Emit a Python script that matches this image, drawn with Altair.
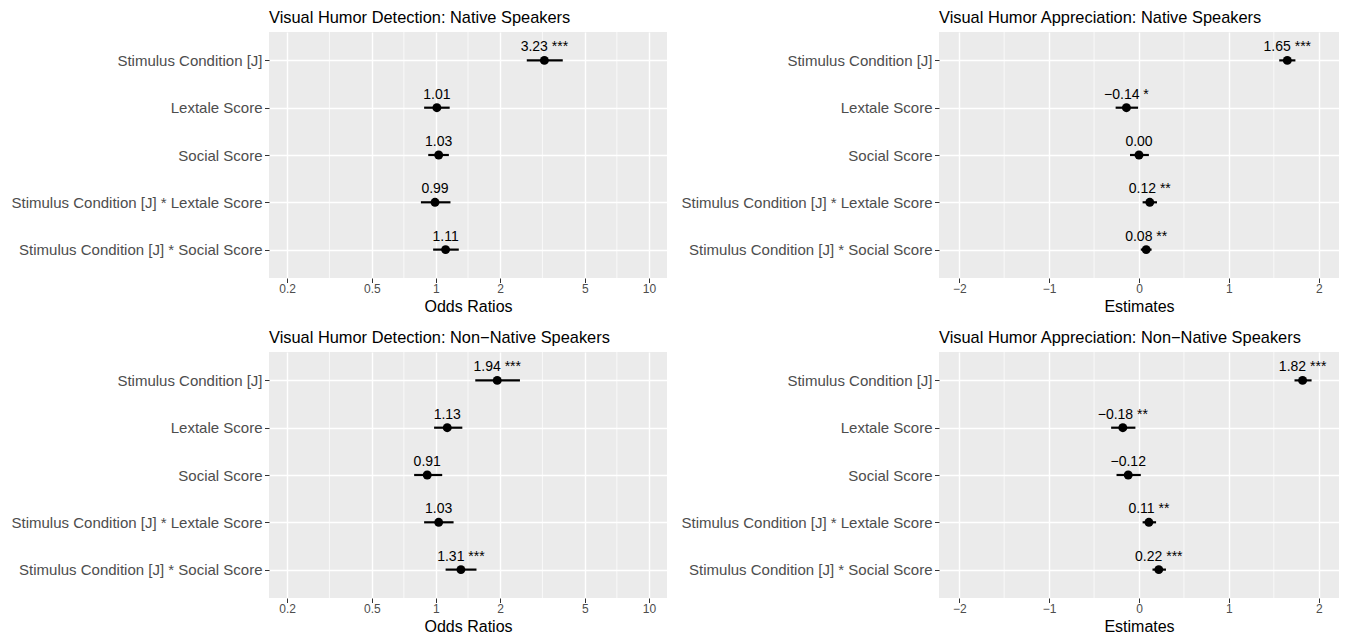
import math
import altair as alt
import pandas as pd

FONT = "Liberation Sans"

terms = [
    "Stimulus Condition [J]",
    "Lextale Score",
    "Social Score\u00a0",
    "Stimulus Condition [J] * Lextale Score",
    "Stimulus Condition [J] * Social Score\u00a0",
]

# Visual Humor Detection: Native Speakers (odds ratios)
det_nat_est = [3.23, 1.01, 1.03, 0.99, 1.11]
det_nat_lo = [2.67, 0.88, 0.92, 0.85, 0.97]
det_nat_hi = [3.94, 1.16, 1.15, 1.17, 1.28]
det_nat_sig = ["***", "", "", "", ""]

# Visual Humor Detection: Non-Native Speakers (odds ratios)
det_non_est = [1.94, 1.13, 0.91, 1.03, 1.31]
det_non_lo = [1.53, 0.98, 0.79, 0.88, 1.11]
det_non_hi = [2.48, 1.33, 1.07, 1.21, 1.55]
det_non_sig = ["***", "", "", "", "***"]

# Visual Humor Appreciation: Native Speakers (estimates)
app_nat_est = [1.65, -0.14, 0.00, 0.12, 0.08]
app_nat_lo = [1.56, -0.26, -0.10, 0.04, 0.02]
app_nat_hi = [1.74, -0.01, 0.11, 0.20, 0.14]
app_nat_sig = ["***", "*", "", "**", "**"]

# Visual Humor Appreciation: Non-Native Speakers (estimates)
app_non_est = [1.82, -0.18, -0.12, 0.11, 0.22]
app_non_lo = [1.73, -0.31, -0.25, 0.04, 0.15]
app_non_hi = [1.92, -0.04, 0.02, 0.19, 0.30]
app_non_sig = ["***", "**", "", "**", "***"]

log_ticks = [0.2, 0.5, 1, 2, 5, 10]
log_minor = [0.316, 0.707, 1.414, 3.162, 7.071]
lin_ticks = [-2, -1, 0, 1, 2]
lin_minor = [-1.5, -0.5, 0.5, 1.5]

H = 246


def fmt(v):
    s = f"{v:.2f}"
    if s.startswith("-"):
        s = "\u2212" + s[1:]
    return s


def panel(title, est, lo, hi, sig, log, xtitle, width):
    df = pd.DataFrame({
        "term": terms, "est": est, "lo": lo, "hi": hi,
        "label": [fmt(e) + (" " + s if s else "") for e, s in zip(est, sig)],
    })
    if log:
        lo_d = 10 ** (math.log10(0.2) - 0.085)
        hi_d = 10 ** (1 + 0.085)
        xscale = alt.Scale(type="log", domain=[lo_d, hi_d], nice=False)
        ticks, minor, lfmt = log_ticks, log_minor, "~g"
    else:
        xscale = alt.Scale(domain=[-2.225, 2.225], nice=False, zero=False)
        ticks, minor, lfmt = lin_ticks, lin_minor, "d"

    xaxis = alt.Axis(
        title=xtitle, values=ticks, format=lfmt, grid=True,
        gridColor="white", gridWidth=1.4, domain=False,
        ticks=True, tickColor="#333333", tickSize=4.5, tickWidth=1,
        labelColor="#4D4D4D", labelFontSize=12, labelFont=FONT,
        labelPadding=1, titleFont=FONT, titleFontSize=16,
        titleFontWeight="normal", titleColor="black", titlePadding=4,
        labelFlush=False, labelOverlap=False,
    )
    yscale = alt.Scale(type="point", padding=0.6, domain=terms)
    yaxis = alt.Axis(
        title=None, grid=True, gridColor="white", gridWidth=1.4,
        domain=False, ticks=True, tickColor="#333333", tickSize=4.5,
        tickWidth=1, labelColor="#4D4D4D", labelFontSize=15,
        labelFont=FONT, labelPadding=2.5, labelLimit=400,
    )

    minor_layer = alt.Chart(pd.DataFrame({"m": minor})).mark_rule(
        color="white", strokeWidth=0.7
    ).encode(x=alt.X("m:Q", scale=xscale, axis=xaxis))

    base = alt.Chart(df)
    bars = base.mark_rule(color="black", strokeWidth=2.2).encode(
        x=alt.X("lo:Q", scale=xscale, axis=xaxis),
        x2="hi:Q",
        y=alt.Y("term:N", scale=yscale, axis=yaxis, sort=terms),
    )
    pts = base.mark_circle(color="black", size=80, opacity=1).encode(
        x=alt.X("est:Q", scale=xscale, axis=xaxis),
        y=alt.Y("term:N", scale=yscale, axis=yaxis, sort=terms),
    )
    txt = base.mark_text(
        font=FONT, fontSize=14, color="black", baseline="alphabetic",
        align="center", dy=-9,
    ).encode(
        x=alt.X("est:Q", scale=xscale, axis=xaxis),
        y=alt.Y("term:N", scale=yscale, axis=yaxis, sort=terms),
        text="label:N",
    )
    return alt.layer(minor_layer, bars, pts, txt).properties(
        width=width, height=H,
        title=alt.TitleParams(
            title, anchor="start", frame="group", font=FONT,
            fontSize=16.4, fontWeight="normal", color="black", offset=5.5,
        ),
    )


p1 = panel("Visual Humor Detection: Native Speakers", det_nat_est, det_nat_lo,
           det_nat_hi, det_nat_sig, True, "Odds Ratios", 398)
p2 = panel("Visual Humor Appreciation: Native Speakers", app_nat_est, app_nat_lo,
           app_nat_hi, app_nat_sig, False, "Estimates", 400)
p3 = panel("Visual Humor Detection: Non\u2212Native Speakers", det_non_est,
           det_non_lo, det_non_hi, det_non_sig, True, "Odds Ratios", 398)
p4 = panel("Visual Humor Appreciation: Non\u2212Native Speakers", app_non_est,
           app_non_lo, app_non_hi, app_non_sig, False, "Estimates", 400)

top = alt.hconcat(p1, p2, spacing=14)
bottom = alt.hconcat(p3, p4, spacing=14)

chart = alt.vconcat(top, bottom, spacing=14).properties(
    padding={"left": 3, "top": 1, "right": 0, "bottom": 0},
    background="white",
).configure_view(fill="#EBEBEB", stroke=None, strokeWidth=0)

chart.save("out.html", embed_options={"renderer": "svg", "actions": False})
